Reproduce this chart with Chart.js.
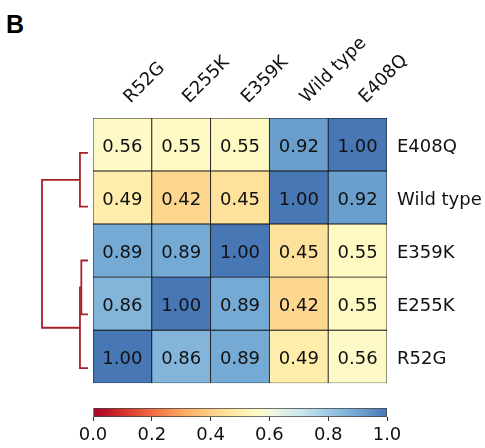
<!DOCTYPE html>
<html>
<head>
<meta charset="utf-8">
<script src="https://cdn.jsdelivr.net/npm/chart.js@4.4.1/dist/chart.umd.min.js"></script>
<style>
  body { margin: 0; background: #fff; width: 485px; height: 448px; overflow: hidden; position: relative; }
  canvas { position: absolute; }
  #panel { position: absolute; left: 6px; top: 10px; line-height: 25px; font: bold 25px 'Liberation Sans', Arial, sans-serif; color: #000; }
</style>
</head>
<body>
<div id="panel">B</div>
<canvas id="heat" width="485" height="404" style="left:0;top:0"></canvas>
<canvas id="dendro" width="70" height="300" style="left:30px;top:110px"></canvas>
<canvas id="cbar" width="485" height="48" style="left:0;top:400px"></canvas>
<script>
// columns left to right, rows top to bottom
const colLabels = ['R52G', 'E255K', 'E359K', 'Wild type', 'E408Q'];
const rowLabels = ['E408Q', 'Wild type', 'E359K', 'E255K', 'R52G'];

// similarity values, one array per row
const rowE408Q = [0.56, 0.55, 0.55, 0.92, 1.00];
const rowWildType = [0.49, 0.42, 0.45, 1.00, 0.92];
const rowE359K = [0.89, 0.89, 1.00, 0.45, 0.55];
const rowE255K = [0.86, 1.00, 0.89, 0.42, 0.55];
const rowR52G = [1.00, 0.86, 0.89, 0.49, 0.56];

const cbarTicks = [0, 0.2, 0.4, 0.6, 0.8, 1.0];

// dendrogram links (scipy style): leaf positions and merge heights
const linkY = [[5, 5, 15, 15], [25, 25, 35, 35], [30, 30, 45, 45], [10, 10, 37.5, 37.5]];
const linkD = [[0, 0.175, 0.175, 0], [0, 0.145, 0.145, 0], [0.145, 0.175, 0.175, 0], [0.175, 1, 1, 0.175]];

// colormap (RdYlBu-like)
const cmapPos = [0, 0.1, 0.2, 0.3, 0.4, 0.45, 0.5, 0.55, 0.6, 0.7, 0.8, 0.88, 0.92, 1.0];
const cmapCol = ['#a50026', '#d3322b', '#f26b43', '#fba85e', '#fdd087', '#fee19a', '#fff0af', '#fffac3',
                 '#f3f9db', '#cde8f1', '#9ccbe3', '#79aed6', '#6a9ecc', '#4777b5'];

Chart.defaults.font.family = "'DejaVu Sans', sans-serif";
Chart.defaults.color = '#111';

function hexRgb(h) {
    return [parseInt(h.slice(1, 3), 16), parseInt(h.slice(3, 5), 16), parseInt(h.slice(5, 7), 16)];
}

function cmap(v) {
    let i = 0;
    while (i < cmapPos.length - 2 && v > cmapPos[i + 1]) i++;
    const t = (v - cmapPos[i]) / (cmapPos[i + 1] - cmapPos[i]);
    const a = hexRgb(cmapCol[i]), b = hexRgb(cmapCol[i + 1]);
    const c = a.map((x, k) => Math.round(x + (b[k] - x) * t));
    return 'rgb(' + c.join(',') + ')';
}

// writes the value in each cell
const cellText = {
    id: 'cellText',
    afterDatasetsDraw(chart) {
        const ctx = chart.ctx;
        ctx.save();
        ctx.font = "18px 'DejaVu Sans'";
        ctx.fillStyle = '#111';
        ctx.textAlign = 'center';
        ctx.textBaseline = 'middle';
        chart.data.datasets.forEach((ds, i) => {
            chart.getDatasetMeta(i).data.forEach((bar, j) => {
                ctx.fillText(ds.vals[j].toFixed(2), bar.x, (bar.y + bar.base) / 2 + 3);
            });
        });
        ctx.restore();
    }
};

const rows = [rowE408Q, rowWildType, rowE359K, rowE255K, rowR52G];

// stacked bars, bottom row first
const heatSets = rows.slice().reverse().map((r, k) => ({
    label: rowLabels[rows.length - 1 - k],
    data: r.map(() => 1),
    vals: r,
    backgroundColor: r.map(cmap),
    borderColor: '#151515',
    borderWidth: 0.8,
    borderSkipped: false,
    barPercentage: 1,
    categoryPercentage: 1
}));

new Chart(document.getElementById('heat'), {
    type: 'bar',
    data: { labels: colLabels, datasets: heatSets },
    plugins: [cellText],
    options: {
        responsive: false,
        animation: false,
        events: [],
        layout: { padding: { left: 93, right: 0, top: 20, bottom: 2 } },
        plugins: { legend: { display: false }, tooltip: { enabled: false } },
        scales: {
            x: {
                position: 'top',
                stacked: true,
                grid: { display: false, drawTicks: false },
                border: { display: false },
                ticks: { minRotation: 45, maxRotation: 45, padding: 10, labelOffset: 20, font: { size: 18 } },
                afterFit: s => { s.height = 98; }
            },
            y: { stacked: true, min: 0, max: 5, display: false },
            yl: {
                type: 'category',
                axis: 'y',
                labels: rowLabels,
                position: 'right',
                offset: true,
                grid: { display: false, drawTicks: false },
                border: { display: false },
                ticks: { padding: 10, labelOffset: 3, font: { size: 18 } },
                afterFit: s => { s.width = 98; }
            }
        }
    }
});

new Chart(document.getElementById('dendro'), {
    type: 'scatter',
    data: {
        datasets: linkY.map((ys, k) => ({
            data: ys.map((y, n) => ({ x: linkD[k][n], y: y })),
            showLine: true,
            borderColor: '#a8202a',
            borderWidth: 1.8,
            pointRadius: 0,
            clip: false
        }))
    },
    options: {
        responsive: false,
        animation: false,
        events: [],
        layout: { padding: { left: 12, right: 12, top: 16, bottom: 15 } },
        plugins: { legend: { display: false }, tooltip: { enabled: false } },
        scales: {
            x: { type: 'linear', display: false, min: 0, max: 1, reverse: true },
            y: { type: 'linear', display: false, min: 0, max: 50, reverse: true }
        }
    }
});

function cbarFill(c) {
    const area = c.chart.chartArea;
    if (!area) return null;
    const g = c.chart.ctx.createLinearGradient(area.left, 0, area.right, 0);
    cmapPos.forEach((p, i) => g.addColorStop(p, cmapCol[i]));
    return g;
}

new Chart(document.getElementById('cbar'), {
    type: 'bar',
    data: {
        labels: [''],
        datasets: [{
            data: [[0, 1]],
            backgroundColor: cbarFill,
            borderColor: '#444',
            borderWidth: 1,
            borderSkipped: false,
            barPercentage: 1,
            categoryPercentage: 1
        }]
    },
    options: {
        indexAxis: 'y',
        responsive: false,
        animation: false,
        events: [],
        layout: { padding: { left: 93, right: 98, top: 8, bottom: 0 } },
        plugins: { legend: { display: false }, tooltip: { enabled: false } },
        scales: {
            y: { display: false },
            x: {
                type: 'linear',
                min: 0,
                max: 1,
                afterBuildTicks: s => { s.ticks = cbarTicks.map(v => ({ value: v })); },
                ticks: { callback: v => v.toFixed(1), padding: 4, font: { size: 18 } },
                grid: { drawOnChartArea: false, tickLength: 4, color: '#333' },
                border: { display: false },
                afterFit: s => { s.height = 31; }
            }
        }
    }
});
</script>
</body>
</html>
